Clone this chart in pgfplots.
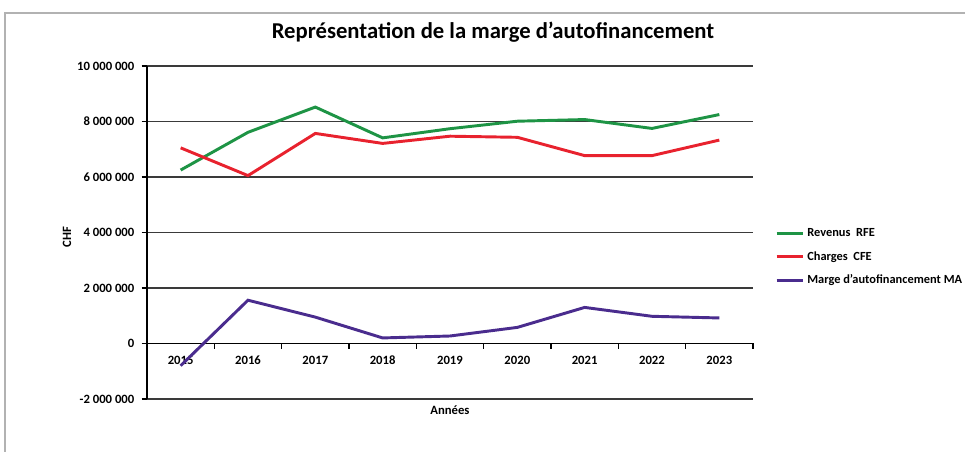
\documentclass[border=0pt]{standalone}
\usepackage{fontspec}
\setmainfont{Carlito}
\usepackage{pgfplots}
\pgfplotsset{compat=1.18}
\definecolor{revcol}{HTML}{1E9445}
\definecolor{chgcol}{HTML}{E8222E}
\definecolor{macol}{HTML}{4A2C8E}
\definecolor{gridcol}{HTML}{3A3A3A}

\begin{document}
\begin{tikzpicture}
\begin{axis}[at={(0,0)},anchor=south west,
scale only axis,
width=454.5pt,
height=249.75pt,
xmin=0.5,xmax=9.5,
ymin=-2000000,ymax=10000000,
scaled y ticks=false,
axis x line*=middle,
axis y line*=left,
every outer x axis line/.append style={-},
every inner x axis line/.append style={-},
every outer y axis line/.append style={-},
every inner y axis line/.append style={-},
axis line style={black,line width=1pt},
ymajorgrids,
major grid style={gridcol,line width=0.9pt},
tick align=outside,
major tick length=4pt,
tick style={black,line width=0.9pt},
xtick={0.5,1.5,...,9.5},
xticklabels={},
extra x ticks={1,2,3,4,5,6,7,8,9},
extra x tick labels={2015,2016,2017,2018,2019,2020,2021,2022,2023},
extra x tick style={major tick length=0pt,grid=none,
  tick label style={yshift=-6pt}},
ytick={-2000000,0,2000000,4000000,6000000,8000000,10000000},
yticklabels={-2 000 000,0,2 000 000,4 000 000,6 000 000,8 000 000,10 000 000},
tick label style={font=\bfseries\fontsize{9.5}{11}\selectfont},
y tick label style={xshift=-2pt},
title={Représentation de la marge d'autofinancement},
title style={at={(axis description cs:0.571,1.078)},anchor=center,yshift=0pt,
  font=\bfseries\fontsize{17}{20}\selectfont},
xlabel={Années},
xlabel style={at={(axis description cs:0.5,-0.033)},anchor=center,
  font=\bfseries\fontsize{9.5}{11}\selectfont},
ylabel={CHF},
ylabel style={at={(axis description cs:-0.132,0.486)},anchor=center,rotate=0,
  font=\bfseries\fontsize{9.5}{11}\selectfont},
legend style={at={(axis description cs:1.036,0.52)},anchor=north west,
  draw=none,fill=none,font=\bfseries\fontsize{9.3}{11}\selectfont,
  row sep=5.5pt,inner sep=0pt},
legend cell align=left,
legend image code/.code={\draw[#1,line width=2.2pt] (0pt,0pt) -- (20pt,0pt);},
clip=false,
]
\addplot[revcol,line width=2.2pt] coordinates {
(1,6250000) (2,7610000) (3,8520000) (4,7410000) (5,7740000)
(6,8010000) (7,8070000) (8,7750000) (9,8250000)
};
\addlegendentry{Revenus~ RFE}
\addplot[chgcol,line width=2.2pt] coordinates {
(1,7050000) (2,6050000) (3,7570000) (4,7210000) (5,7470000)
(6,7430000) (7,6770000) (8,6770000) (9,7330000)
};
\addlegendentry{Charges~ CFE}
\addplot[macol,line width=2.2pt] coordinates {
(1,-800000) (2,1560000) (3,950000) (4,200000) (5,270000)
(6,580000) (7,1300000) (8,980000) (9,920000)
};
\addlegendentry{Marge d'autofinancement MA}
\end{axis}
% scanned frame around the chart
\draw[gray!60,line width=1.1pt] (-106.5pt,-60pt) -- (-106.5pt,289.5pt) -- (630pt,289.5pt);
\pgfresetboundingbox
\path[use as bounding box] (-110.25pt,-39.75pt) rectangle (613.5pt,299.25pt);
\end{tikzpicture}
\end{document}
